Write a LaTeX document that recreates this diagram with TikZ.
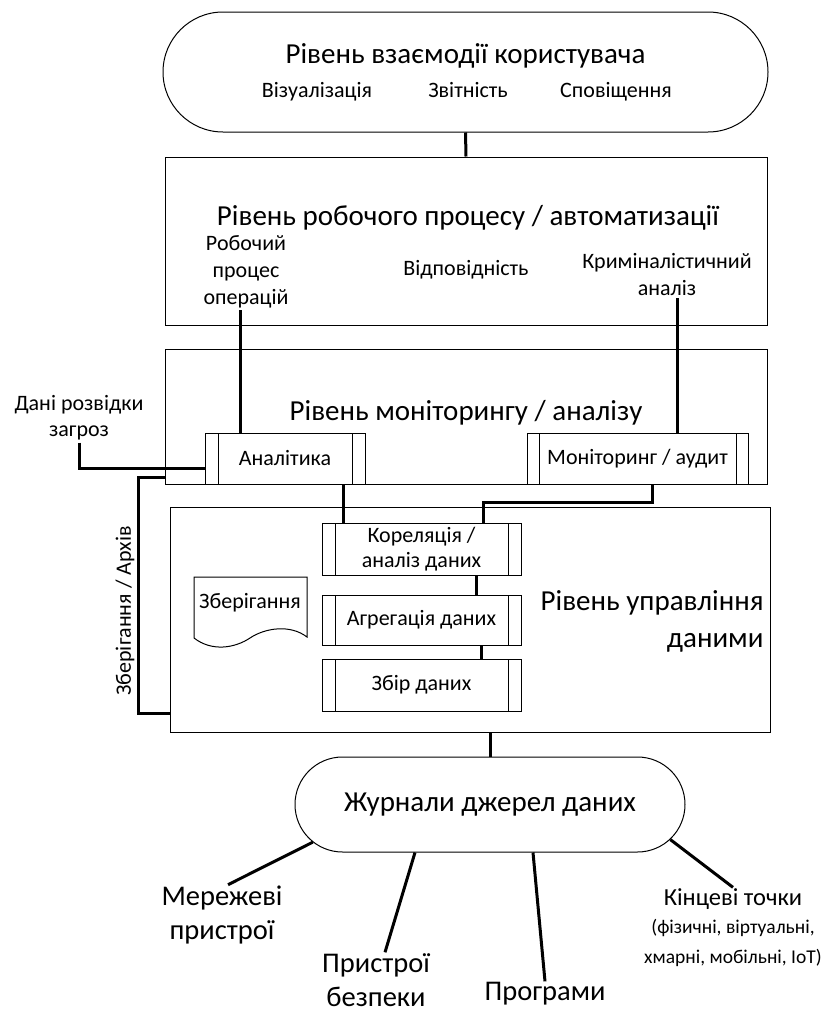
\documentclass[tikz,border=0pt]{standalone}
\usepackage{fontspec}
\setmainfont{Carlito}
\usetikzlibrary{shapes.misc, positioning}

\tikzset{
  layer/.style={draw, line width=1pt, rectangle, inner sep=0pt},
  pill/.style={draw, line width=1pt, rounded rectangle, inner sep=0pt},
  proc/.style={draw, line width=1pt, rectangle, inner sep=0pt, align=center,
    path picture={\draw[line width=1pt]
      ([xshift=#1]path picture bounding box.north west) -- ([xshift=#1]path picture bounding box.south west)
      ([xshift=-#1]path picture bounding box.north east) -- ([xshift=-#1]path picture bounding box.south east);}},
  proc/.default=13pt,
  conn/.style={line width=3pt},
  bigfont/.style={font=\fontsize{29}{37}\selectfont},
  midfont/.style={font=\fontsize{22}{27}\selectfont},
  smallfont/.style={font=\fontsize{19.5}{30}\selectfont},
  logsfont/.style={font=\fontsize{29}{35}\selectfont},
  leaffont/.style={font=\fontsize{28.5}{34}\selectfont, inner sep=1pt},
}

\begin{document}
\begin{tikzpicture}[x=1pt, y=-1pt]
\useasboundingbox (0,0) rectangle (824,1012);

% user interaction layer
\node[pill, minimum width=605pt, minimum height=120pt] (user) at (465.5,72) {};
\node[bigfont, anchor=base] (usertitle) at (465.5,63) {Рівень взаємодії користувача};
\node[midfont, anchor=base] (vis) at (317,97) {Візуалізація};
\node[midfont, anchor=base] (rep) at (468,97) {Звітність};
\node[midfont, anchor=base] (notif) at (616,97) {Сповіщення};

% workflow / automation layer
\node[layer, minimum width=602pt, minimum height=168pt] (workflow) at (466,241) {};
\node[bigfont] (wftitle) at (468,218) {Рівень робочого процесу / автоматизації};
\node[midfont, align=center, inner sep=2pt] (ops) at (246,272) {Робочий\\процес\\операцій};
\node[midfont] (compl) at (466,270) {Відповідність};
\node[midfont, align=center, inner sep=2pt] (forensic) at (667,275) {Криміналістичний\\аналіз};

% monitoring / analysis layer
\node[layer, minimum width=602pt, minimum height=135pt] (monitor) at (466,416.5) {};
\node[bigfont] (montitle) at (466,413) {Рівень моніторингу / аналізу};
\node[proc, midfont, minimum width=160pt, minimum height=51pt] (analytics) at (285,458.5) {Аналітика};
\node[proc=12pt, midfont, minimum width=221pt, minimum height=51pt] (monaudit) at (637.5,458.5) {Моніторинг / аудит};

% data management layer
\node[layer, minimum width=600pt, minimum height=225pt] (datamgmt) at (470,619.5) {};
\node[bigfont, align=right, anchor=east] (dmtitle) at (767,621) {Рівень управління\\даними};
\node[proc, font=\fontsize{22}{25}\selectfont, minimum width=199pt, minimum height=52pt] (corr) at (421.5,549) {Кореляція /\\аналіз даних};
\node[proc, midfont, minimum width=199pt, minimum height=50pt] (aggr) at (421.5,620) {Агрегація даних};
\node[proc, midfont, minimum width=199pt, minimum height=52pt] (collect) at (421.5,685) {Збір даних};

% storage document
\node[midfont] (storage) at (250,603) {Зберігання};
\draw[line width=1pt] (194,577) -- (307,577) -- (307,637)
  .. controls (290,624) and (265,628) .. (250,638)
  .. controls (235,648) and (212,652) .. (194,638) -- cycle;

% left side
\node[midfont, align=center, inner sep=2pt, font=\fontsize{22}{26}\selectfont] (threat) at (79,418) {Дані розвідки\\загроз};
\node[midfont, rotate=90] (archive) at (125,611) {Зберігання / Архів};

% data sources
\node[pill, logsfont, minimum width=390pt, minimum height=95pt] (logs) at (490,804.5) {Журнали джерел даних};
\node[leaffont, align=center] (netdev) at (222,915) {Мережеві\\пристрої};
\node[leaffont, align=center] (secdev) at (376,980) {Пристрої\\безпеки};
\node[leaffont] (apps) at (545,994) {Програми};
\node[leaffont, font=\fontsize{24.5}{30}\selectfont] (endpt) at (733,899) {Кінцеві точки};
\node[smallfont, align=center] (endptnote) at (733,943) {(фізичні, віртуальні,\\хмарні, мобільні, IoT)};

% connectors
\draw[conn] (user.south) -- (workflow.north);
\draw[conn] ([xshift=-6pt]ops.south) -- ([xshift=-6pt]ops.south |- analytics.north);
\draw[conn] ([xshift=10pt]forensic.south) -- ([xshift=10pt]forensic.south |- monaudit.north);
\draw[conn] (threat.south) |- ([yshift=-9.5pt]analytics.west);
\draw[conn] ([yshift=7pt]monitor.south west) -- ++(-26,0) |- ([yshift=19pt]datamgmt.south west);
\draw[conn] ([xshift=-78.5pt]corr.north) -- ([xshift=-78.5pt]corr.north |- analytics.south);
\draw[conn] ([xshift=14.5pt]monaudit.south) -- ++(0,18) -| ([xshift=61.5pt]corr.north);
\draw[conn] ([xshift=54.5pt]corr.south) -- ([xshift=54.5pt]aggr.north);
\draw[conn] ([xshift=59.5pt]aggr.south) -- ([xshift=59.5pt]collect.north);
\draw[conn] ([xshift=20pt]datamgmt.south) -- ([xshift=20pt]datamgmt.south |- logs.north);
\draw[conn] (logs.192) -- ([xshift=6pt]netdev.north);
\draw[conn] ([xshift=-75pt]logs.south) -- ([xshift=9pt]secdev.north);
\draw[conn] ([xshift=43pt]logs.south) -- (apps.north);
\draw[conn] (logs.-11) -- (endpt.north);
\end{tikzpicture}
\end{document}
